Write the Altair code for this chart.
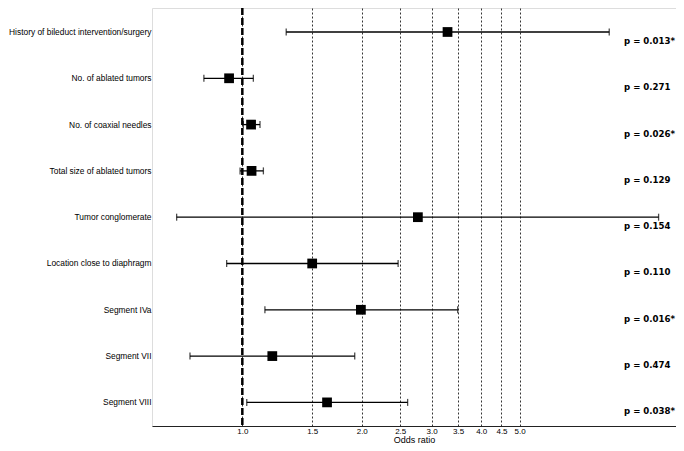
import altair as alt
import pandas as pd

names = [
    "History of bileduct intervention/surgery",
    "No. of ablated tumors",
    "No. of coaxial needles",
    "Total size of ablated tumors",
    "Tumor conglomerate",
    "Location close to diaphragm",
    "Segment IVa",
    "Segment VII",
    "Segment VIII",
]
odds = [3.29, 0.926, 1.052, 1.055, 2.77, 1.50, 1.99, 1.19, 1.635]
lower = [1.29, 0.80, 1.006, 0.987, 0.683, 0.913, 1.14, 0.738, 1.026]
upper = [8.41, 1.066, 1.108, 1.13, 11.2, 2.47, 3.49, 1.92, 2.61]
pvals = ["p = 0.013*", "p = 0.271", "p = 0.026*", "p = 0.129", "p = 0.154",
         "p = 0.110", "p = 0.016*", "p = 0.474", "p = 0.038*"]
tick_values = [1.0, 1.5, 2.0, 2.5, 3.0, 3.5, 4.0, 4.5, 5.0]

df = pd.DataFrame({
    "row": list(range(len(names))),
    "name": names,
    "or": odds,
    "lo": lower,
    "hi": upper,
    "p": pvals,
})

xscale = alt.Scale(type="log", domain=[0.592, 12.39], nice=False, zero=False)
yscale = alt.Scale(domain=[-0.518, 8.51], reverse=True, nice=False, zero=False)
yenc = alt.Y("row:Q", scale=yscale, axis=None)

xaxis = alt.Axis(
    values=tick_values, format=".1f", title="Odds ratio",
    grid=True, gridDash=[2, 2], gridColor="#000000", gridWidth=0.8, gridOpacity=1,
    ticks=False, labelPadding=1, labelFontSize=8, labelFont="Liberation Sans",
    labelColor="#000000", titleFont="Liberation Sans", titleFontSize=9,
    titleFontWeight="normal", titleColor="#000000", titlePadding=0,
    domainColor="#222222", domainWidth=1, labelFlush=False,
)

base = alt.Chart(df)

bars = base.mark_rule(color="#000000", strokeWidth=1.3).encode(
    x=alt.X("lo:Q", scale=xscale, axis=xaxis),
    x2="hi:Q",
    y=yenc,
)
cap_lo = base.mark_tick(color="#000000", size=7, thickness=1.3, orient="vertical").encode(
    x="lo:Q", y=yenc)
cap_hi = base.mark_tick(color="#000000", size=7, thickness=1.3, orient="vertical").encode(
    x="hi:Q", y=yenc)

ref = alt.Chart(pd.DataFrame({"v": [1.0]})).mark_rule(
    color="#000000", strokeWidth=2.5, strokeDash=[7, 3]
).encode(x="v:Q")

points = base.mark_square(color="#000000", size=95, opacity=1).encode(
    x="or:Q", y=yenc)

labels = base.mark_text(align="right", baseline="middle", font="Liberation Sans",
                        fontSize=8.4, color="#000000").encode(
    x=alt.value(-0.5), y=yenc, text="name:N")

ptext = base.mark_text(align="left", baseline="middle", font="DejaVu Sans",
                       fontWeight="bold", fontSize=8.6, dy=9, color="#000000").encode(
    x=alt.value(472), y=yenc, text="p:N")

chart = alt.layer(bars, ref, cap_lo, cap_hi, points, labels, ptext).properties(
    width=524, height=418,
    autosize=alt.AutoSizeParams(type="none"),
    padding={"left": 144, "top": 0, "right": 0, "bottom": 17},
).configure_view(strokeWidth=0, strokeOpacity=0).configure(background="white")

chart.save("out.html", embed_options={"renderer": "svg", "actions": False})
